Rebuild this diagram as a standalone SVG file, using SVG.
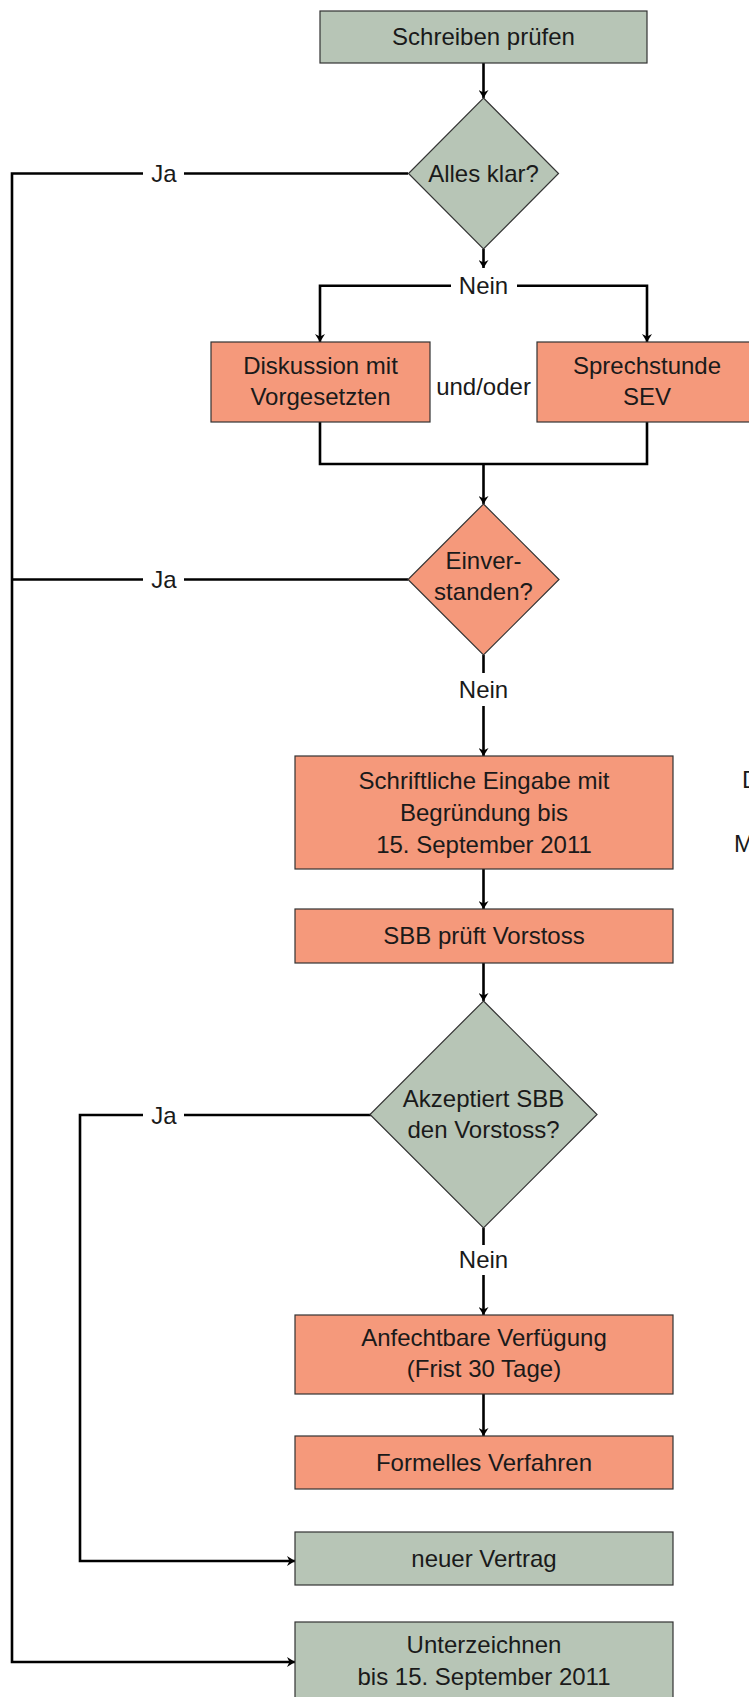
<svg xmlns="http://www.w3.org/2000/svg" width="749" height="1697" viewBox="0 0 749 1697">
<style>
  .g{fill:#b7c5b6;stroke:#333;stroke-width:1.2}
  .o{fill:#f5997b;stroke:#333;stroke-width:1.2}
  text{font-family:"Liberation Sans",Arial,sans-serif;font-size:24px;fill:#1a1a1a;text-anchor:middle}
  .c path{fill:none;stroke:#000;stroke-width:2.6}
  .l{text-anchor:start}
</style>
<defs>
  <marker id="ah" viewBox="0 0 8 10" refX="8" refY="5" markerWidth="8" markerHeight="10" markerUnits="userSpaceOnUse" orient="auto">
    <path d="M0,0 L8,5 L0,10 L2.5,5 Z" fill="#000"/>
  </marker>
</defs>
<rect width="749" height="1697" fill="#fff"/>

<g class="c" id="connectors">
  <path d="M483.5,63 V98" marker-end="url(#ah)"/>
  <path d="M408,173.5 H184"/>
  <path d="M143,173.5 H12 V1662 H295" marker-end="url(#ah)"/>
  <path d="M483.5,249 V268" marker-end="url(#ah)"/>
  <path d="M451,285.7 H320 V342" marker-end="url(#ah)"/>
  <path d="M517,285.7 H647 V342" marker-end="url(#ah)"/>
  <path d="M320,422 V464 H647 V422"/>
  <path d="M483.5,464 V504" marker-end="url(#ah)"/>
  <path d="M408,579.5 H184"/>
  <path d="M143,579.5 H12"/>
  <path d="M483.5,655 V673"/>
  <path d="M483.5,706 V756" marker-end="url(#ah)"/>
  <path d="M483.5,869 V909" marker-end="url(#ah)"/>
  <path d="M483.5,963 V1001" marker-end="url(#ah)"/>
  <path d="M371,1115 H184"/>
  <path d="M143,1115 H80 V1561 H295" marker-end="url(#ah)"/>
  <path d="M483.5,1228 V1245"/>
  <path d="M483.5,1275 V1315" marker-end="url(#ah)"/>
  <path d="M483.5,1394 V1436" marker-end="url(#ah)"/>
</g>

<g id="labels">
  <text x="164" y="182">Ja</text>
  <text x="164" y="588">Ja</text>
  <text x="164" y="1124">Ja</text>
  <text x="483.5" y="294">Nein</text>
  <text x="483.5" y="698">Nein</text>
  <text x="483.5" y="1268">Nein</text>
  <text x="483.5" y="395">und/oder</text>
</g>

<g id="n1"><rect class="g" x="320" y="11" width="327" height="52"/><text x="483.5" y="45">Schreiben prüfen</text></g>
<g id="d1"><polygon class="g" points="483.5,98 558.5,173.5 483.5,249 408.5,173.5"/><text x="483.5" y="182">Alles klar?</text></g>
<g id="n2"><rect class="o" x="211" y="342" width="219" height="80"/><text x="320.5" y="374">Diskussion mit</text><text x="320.5" y="405">Vorgesetzten</text></g>
<g id="n3"><rect class="o" x="537" y="342" width="220" height="80"/><text x="647" y="374">Sprechstunde</text><text x="647" y="405">SEV</text></g>
<g id="d2"><polygon class="o" points="483.5,504 559,579.5 483.5,655 408,579.5"/><text x="483.5" y="569">Einver-</text><text x="483.5" y="600">standen?</text></g>
<g id="n4"><rect class="o" x="295" y="756" width="378" height="113"/><text x="484" y="789">Schriftliche Eingabe mit</text><text x="484" y="821">Begründung bis</text><text x="484" y="853">15. September 2011</text></g>
<g id="n5"><rect class="o" x="295" y="909" width="378" height="54"/><text x="484" y="944">SBB prüft Vorstoss</text></g>
<g id="d3"><polygon class="g" points="483.5,1001 597,1114.5 483.5,1228 370,1114.5"/><text x="483.5" y="1107">Akzeptiert SBB</text><text x="483.5" y="1138">den Vorstoss?</text></g>
<g id="n6"><rect class="o" x="295" y="1315" width="378" height="79"/><text x="484" y="1346">Anfechtbare Verfügung</text><text x="484" y="1377">(Frist 30 Tage)</text></g>
<g id="n7"><rect class="o" x="295" y="1436" width="378" height="53"/><text x="484" y="1471">Formelles Verfahren</text></g>
<g id="n8"><rect class="g" x="295" y="1532" width="378" height="53"/><text x="484" y="1567">neuer Vertrag</text></g>
<g id="n9"><rect class="g" x="295" y="1622" width="378" height="90"/><text x="484" y="1653">Unterzeichnen</text><text x="484" y="1685">bis 15. September 2011</text></g>
<g id="side"><text class="l" x="742" y="788">D</text><text class="l" x="734" y="852">M</text></g>
</svg>
